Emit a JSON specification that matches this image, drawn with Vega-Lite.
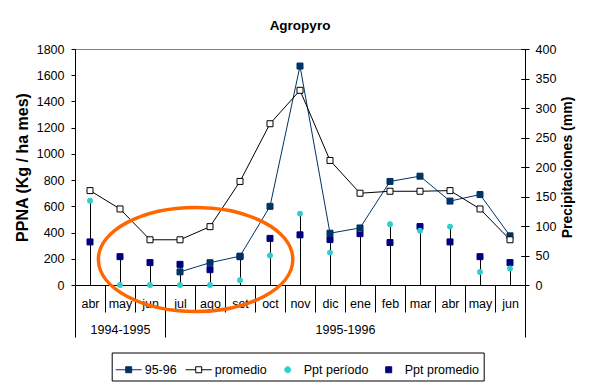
{
  "$schema": "https://vega.github.io/schema/vega-lite/v6.json",
  "width": 450,
  "height": 236,
  "autosize": {"type": "none"},
  "padding": {"left": 75, "top": 49, "right": 74, "bottom": 100},
  "background": "white",
  "title": {"text": "Agropyro", "font": "Liberation Sans", "fontSize": 13.5, "fontWeight": "bold", "color": "black", "anchor": "middle", "frame": "group", "baseline": "bottom", "offset": 16, "dy": 19},
  "datasets": {
    "s": [
      {"i": 4, "serie": "95-96", "v": 100},
      {"i": 5, "serie": "95-96", "v": 170},
      {"i": 6, "serie": "95-96", "v": 220},
      {"i": 7, "serie": "95-96", "v": 600},
      {"i": 8, "serie": "95-96", "v": 1670},
      {"i": 9, "serie": "95-96", "v": 395},
      {"i": 10, "serie": "95-96", "v": 435},
      {"i": 11, "serie": "95-96", "v": 790},
      {"i": 12, "serie": "95-96", "v": 830},
      {"i": 13, "serie": "95-96", "v": 640},
      {"i": 14, "serie": "95-96", "v": 690},
      {"i": 15, "serie": "95-96", "v": 375},
      {"i": 1, "serie": "promedio", "v": 720},
      {"i": 2, "serie": "promedio", "v": 580},
      {"i": 3, "serie": "promedio", "v": 345},
      {"i": 4, "serie": "promedio", "v": 345},
      {"i": 5, "serie": "promedio", "v": 445},
      {"i": 6, "serie": "promedio", "v": 790},
      {"i": 7, "serie": "promedio", "v": 1230},
      {"i": 8, "serie": "promedio", "v": 1485},
      {"i": 9, "serie": "promedio", "v": 950},
      {"i": 10, "serie": "promedio", "v": 700},
      {"i": 11, "serie": "promedio", "v": 715},
      {"i": 12, "serie": "promedio", "v": 715},
      {"i": 13, "serie": "promedio", "v": 720},
      {"i": 14, "serie": "promedio", "v": 580},
      {"i": 15, "serie": "promedio", "v": 345},
      {"i": 1, "serie": "Ppt período", "v": 143},
      {"i": 2, "serie": "Ppt período", "v": 0},
      {"i": 3, "serie": "Ppt período", "v": 0},
      {"i": 4, "serie": "Ppt período", "v": 0},
      {"i": 5, "serie": "Ppt período", "v": 0},
      {"i": 6, "serie": "Ppt período", "v": 8},
      {"i": 7, "serie": "Ppt período", "v": 50},
      {"i": 8, "serie": "Ppt período", "v": 121},
      {"i": 9, "serie": "Ppt período", "v": 55},
      {"i": 10, "serie": "Ppt período", "v": 95},
      {"i": 11, "serie": "Ppt período", "v": 103},
      {"i": 12, "serie": "Ppt período", "v": 92},
      {"i": 13, "serie": "Ppt período", "v": 99},
      {"i": 14, "serie": "Ppt período", "v": 22},
      {"i": 15, "serie": "Ppt período", "v": 28},
      {"i": 1, "serie": "Ppt promedio", "v": 73},
      {"i": 2, "serie": "Ppt promedio", "v": 48},
      {"i": 3, "serie": "Ppt promedio", "v": 38},
      {"i": 4, "serie": "Ppt promedio", "v": 35},
      {"i": 5, "serie": "Ppt promedio", "v": 26},
      {"i": 6, "serie": "Ppt promedio", "v": 48},
      {"i": 7, "serie": "Ppt promedio", "v": 79},
      {"i": 8, "serie": "Ppt promedio", "v": 85},
      {"i": 9, "serie": "Ppt promedio", "v": 77},
      {"i": 10, "serie": "Ppt promedio", "v": 87},
      {"i": 11, "serie": "Ppt promedio", "v": 72},
      {"i": 12, "serie": "Ppt promedio", "v": 99},
      {"i": 13, "serie": "Ppt promedio", "v": 73},
      {"i": 14, "serie": "Ppt promedio", "v": 48},
      {"i": 15, "serie": "Ppt promedio", "v": 38}
    ],
    "anno": [{"i": 4.52, "v": 195}],
    "dummy": [{"i": 1}]
  },
  "layer": [
    {
      "data": {"name": "s"},
      "transform": [{"filter": "datum.serie === 'Ppt período' || datum.serie === 'Ppt promedio'"}],
      "layer": [
        {
          "mark": {"type": "rule", "color": "black", "strokeWidth": 1, "xOffset": 0.5},
          "encoding": {
            "x": {"field": "i", "type": "quantitative", "scale": {"domain": [0.5, 15.5], "nice": false, "zero": false},
              "axis": {"orient": "bottom", "labels": false, "ticks": false, "domain": false, "title": null}},
            "y": {"field": "v", "type": "quantitative", "scale": {"domain": [0, 400], "nice": false},
              "axis": {"orient": "right", "values": [0, 50, 100, 150, 200, 250, 300, 350, 400], "tickSize": 4, "labelPadding": 6, "title": "Precipitaciones (mm)", "titleFontSize": 14, "titleAngle": 270, "titleBaseline": "top", "titlePadding": 5}},
            "y2": {"datum": 0}
          }
        },
        {
          "transform": [{"filter": "datum.serie === 'Ppt promedio'"}],
          "mark": {"type": "point", "shape": "square", "filled": true, "size": 36, "opacity": 1, "strokeWidth": 1},
          "encoding": {
            "x": {"field": "i", "type": "quantitative", "axis": {"orient": "bottom", "labels": false, "ticks": false, "domain": false, "title": null}},
            "y": {"field": "v", "type": "quantitative",
              "axis": {"orient": "right", "offset": -4, "values": [0, 50, 100, 150, 200, 250, 300, 350, 400], "tickSize": 4, "labels": false, "domain": false, "title": null}},
            "fill": {"field": "serie", "type": "nominal", "scale": {"domain": ["95-96", "promedio", "Ppt período", "Ppt promedio"], "range": ["#003366", "white", "#33CCCC", "#000080"]},
              "legend": {"title": null, "orient": "none", "legendX": 36.7, "legendY": 303.5, "direction": "horizontal", "padding": 4, "strokeColor": "black", "fillColor": "white", "labelFont": "Liberation Sans", "labelFontSize": 12.5, "labelColor": "black", "labelOffset": 3, "columnPadding": 7, "symbolSize": 625, "symbolStrokeWidth": 1, "symbolType": "square",
                "encode": {"symbols": {"update": {"shape": {"signal": "datum.value === 'Ppt período' ? 'M-0.24,0A0.24,0.24 0 1,0 0.24,0A0.24,0.24 0 1,0 -0.24,0Z' : datum.value === 'Ppt promedio' ? 'M-0.24,-0.24H0.24V0.24H-0.24Z' : 'M-1.04,0H-0.24M0.24,0H1.04M-0.24,-0.24H0.24V0.24H-0.24Z'"}, "strokeWidth": {"value": 1}, "opacity": {"value": 1}}}}}},
            "stroke": {"field": "serie", "type": "nominal", "scale": {"domain": ["95-96", "promedio", "Ppt período", "Ppt promedio"], "range": ["#003366", "black", "#33CCCC", "#000080"]},
              "legend": {"title": null, "orient": "none", "legendX": 36.7, "legendY": 303.5, "direction": "horizontal", "padding": 4, "strokeColor": "black", "fillColor": "white", "labelFont": "Liberation Sans", "labelFontSize": 12.5, "labelColor": "black", "labelOffset": 3, "columnPadding": 7, "symbolSize": 625, "symbolStrokeWidth": 1, "symbolType": "square",
                "encode": {"symbols": {"update": {"shape": {"signal": "datum.value === 'Ppt período' ? 'M-0.24,0A0.24,0.24 0 1,0 0.24,0A0.24,0.24 0 1,0 -0.24,0Z' : datum.value === 'Ppt promedio' ? 'M-0.24,-0.24H0.24V0.24H-0.24Z' : 'M-1.04,0H-0.24M0.24,0H1.04M-0.24,-0.24H0.24V0.24H-0.24Z'"}, "strokeWidth": {"value": 1}, "opacity": {"value": 1}}}}}}
          }
        },
        {
          "transform": [{"filter": "datum.serie === 'Ppt período'"}],
          "mark": {"type": "point", "shape": "circle", "filled": true, "size": 34, "opacity": 1, "strokeWidth": 0},
          "encoding": {
            "x": {"field": "i", "type": "quantitative", "axis": {"orient": "bottom", "labels": false, "ticks": false, "domain": false, "title": null}},
            "y": {"field": "v", "type": "quantitative",
              "axis": {"orient": "right", "offset": -4, "values": [0, 50, 100, 150, 200, 250, 300, 350, 400], "tickSize": 4, "labels": false, "domain": false, "title": null}},
            "fill": {"field": "serie", "type": "nominal",
              "legend": {"title": null, "orient": "none", "legendX": 36.7, "legendY": 303.5, "direction": "horizontal", "padding": 4, "strokeColor": "black", "fillColor": "white", "labelFont": "Liberation Sans", "labelFontSize": 12.5, "labelColor": "black", "labelOffset": 3, "columnPadding": 7, "symbolSize": 625, "symbolStrokeWidth": 1, "symbolType": "square",
                "encode": {"symbols": {"update": {"shape": {"signal": "datum.value === 'Ppt período' ? 'M-0.24,0A0.24,0.24 0 1,0 0.24,0A0.24,0.24 0 1,0 -0.24,0Z' : datum.value === 'Ppt promedio' ? 'M-0.24,-0.24H0.24V0.24H-0.24Z' : 'M-1.04,0H-0.24M0.24,0H1.04M-0.24,-0.24H0.24V0.24H-0.24Z'"}, "strokeWidth": {"value": 1}, "opacity": {"value": 1}}}}}}
          }
        }
      ],
      "resolve": {"axis": {"y": "independent"}}
    },
    {
      "data": {"name": "s"},
      "transform": [{"filter": "datum.serie === '95-96' || datum.serie === 'promedio'"}],
      "layer": [
        {
          "mark": {"type": "line", "strokeWidth": 1},
          "encoding": {
            "x": {"field": "i", "type": "quantitative", "scale": {"domain": [0.5, 15.5], "nice": false, "zero": false},
              "axis": {"orient": "bottom", "labels": false, "ticks": false, "domain": false, "title": null}},
            "y": {"field": "v", "type": "quantitative", "scale": {"domain": [0, 1800], "nice": false},
              "axis": {"orient": "left", "values": [0, 200, 400, 600, 800, 1000, 1200, 1400, 1600, 1800], "format": "d", "tickSize": 4, "labelPadding": 7, "title": "PPNA (Kg / ha mes)", "titleFontSize": 16, "titlePadding": 6}},
            "stroke": {"field": "serie", "type": "nominal",
              "legend": {"title": null, "orient": "none", "legendX": 36.7, "legendY": 303.5, "direction": "horizontal", "padding": 4, "strokeColor": "black", "fillColor": "white", "labelFont": "Liberation Sans", "labelFontSize": 12.5, "labelColor": "black", "labelOffset": 3, "columnPadding": 7, "symbolSize": 625, "symbolStrokeWidth": 1, "symbolType": "square",
                "encode": {"symbols": {"update": {"shape": {"signal": "datum.value === 'Ppt período' ? 'M-0.24,0A0.24,0.24 0 1,0 0.24,0A0.24,0.24 0 1,0 -0.24,0Z' : datum.value === 'Ppt promedio' ? 'M-0.24,-0.24H0.24V0.24H-0.24Z' : 'M-1.04,0H-0.24M0.24,0H1.04M-0.24,-0.24H0.24V0.24H-0.24Z'"}, "strokeWidth": {"value": 1}, "opacity": {"value": 1}}}}}}
          }
        },
        {
          "mark": {"type": "point", "shape": "square", "filled": true, "size": 36, "opacity": 1, "strokeWidth": 1},
          "encoding": {
            "x": {"field": "i", "type": "quantitative", "axis": {"orient": "bottom", "labels": false, "ticks": false, "domain": false, "title": null}},
            "y": {"field": "v", "type": "quantitative",
              "axis": {"orient": "left", "values": [0, 200, 400, 600, 800, 1000, 1200, 1400, 1600, 1800], "format": "d", "tickSize": 4, "labelPadding": 7, "title": "PPNA (Kg / ha mes)", "titleFontSize": 16, "titlePadding": 6}},
            "fill": {"field": "serie", "type": "nominal",
              "legend": {"title": null, "orient": "none", "legendX": 36.7, "legendY": 303.5, "direction": "horizontal", "padding": 4, "strokeColor": "black", "fillColor": "white", "labelFont": "Liberation Sans", "labelFontSize": 12.5, "labelColor": "black", "labelOffset": 3, "columnPadding": 7, "symbolSize": 625, "symbolStrokeWidth": 1, "symbolType": "square",
                "encode": {"symbols": {"update": {"shape": {"signal": "datum.value === 'Ppt período' ? 'M-0.24,0A0.24,0.24 0 1,0 0.24,0A0.24,0.24 0 1,0 -0.24,0Z' : datum.value === 'Ppt promedio' ? 'M-0.24,-0.24H0.24V0.24H-0.24Z' : 'M-1.04,0H-0.24M0.24,0H1.04M-0.24,-0.24H0.24V0.24H-0.24Z'"}, "strokeWidth": {"value": 1}, "opacity": {"value": 1}}}}}},
            "stroke": {"field": "serie", "type": "nominal",
              "legend": {"title": null, "orient": "none", "legendX": 36.7, "legendY": 303.5, "direction": "horizontal", "padding": 4, "strokeColor": "black", "fillColor": "white", "labelFont": "Liberation Sans", "labelFontSize": 12.5, "labelColor": "black", "labelOffset": 3, "columnPadding": 7, "symbolSize": 625, "symbolStrokeWidth": 1, "symbolType": "square",
                "encode": {"symbols": {"update": {"shape": {"signal": "datum.value === 'Ppt período' ? 'M-0.24,0A0.24,0.24 0 1,0 0.24,0A0.24,0.24 0 1,0 -0.24,0Z' : datum.value === 'Ppt promedio' ? 'M-0.24,-0.24H0.24V0.24H-0.24Z' : 'M-1.04,0H-0.24M0.24,0H1.04M-0.24,-0.24H0.24V0.24H-0.24Z'"}, "strokeWidth": {"value": 1}, "opacity": {"value": 1}}}}}}
          }
        },
        {
          "data": {"name": "anno"},
          "mark": {"type": "point", "shape": "M-1,0A1,0.535 0 1,0 1,0A1,0.535 0 1,0 -1,0Z", "size": 37791, "filled": false, "stroke": "#FF6600", "strokeWidth": 3.5, "opacity": 1},
          "encoding": {
            "x": {"field": "i", "type": "quantitative", "axis": {"orient": "bottom", "labels": false, "ticks": false, "domain": false, "title": null}},
            "y": {"field": "v", "type": "quantitative",
              "axis": {"orient": "left", "values": [0, 200, 400, 600, 800, 1000, 1200, 1400, 1600, 1800], "format": "d", "tickSize": 4, "labelPadding": 7, "title": "PPNA (Kg / ha mes)", "titleFontSize": 16, "titlePadding": 6}}
          }
        }
      ]
    },
    {
      "data": {"name": "dummy"},
      "mark": {"type": "rule", "opacity": 0},
      "encoding": {
        "x": {"field": "i", "type": "quantitative", "scale": {"domain": [0.5, 15.5], "nice": false, "zero": false},
          "axis": {"orient": "bottom", "values": [1, 2, 3, 4, 5, 6, 7, 8, 9, 10, 11, 12, 13, 14, 15], "ticks": false, "tickSize": 0, "domain": true, "labelPadding": 12, "labelExpr": "['abr','may','jun','jul','ago','set','oct','nov','dic','ene','feb','mar','abr','may','jun'][datum.value-1]", "title": null}}
      }
    },
    {
      "data": {"name": "dummy"},
      "mark": {"type": "rule", "opacity": 0},
      "encoding": {
        "x": {"field": "i", "type": "quantitative", "scale": {"domain": [0.5, 15.5], "nice": false, "zero": false},
          "axis": {"orient": "bottom", "values": [1.5, 2.5, 4.5, 5.5, 6.5, 7.5, 8.5, 9.5, 10.5, 11.5, 12.5, 13.5, 14.5], "labels": false, "domain": false, "tickSize": 27, "title": null}}
      }
    },
    {
      "data": {"name": "dummy"},
      "mark": {"type": "rule", "opacity": 0},
      "encoding": {
        "x": {"field": "i", "type": "quantitative", "scale": {"domain": [0.5, 15.5], "nice": false, "zero": false},
          "axis": {"orient": "bottom", "values": [0.5, 3.5, 15.5], "labels": false, "domain": false, "tickSize": 52, "title": null}}
      }
    },
    {
      "data": {"name": "dummy"},
      "mark": {"type": "rule", "opacity": 0},
      "encoding": {
        "x": {"field": "i", "type": "quantitative", "scale": {"domain": [0.5, 15.5], "nice": false, "zero": false},
          "axis": {"orient": "bottom", "values": [2, 9.5], "ticks": false, "tickSize": 0, "domain": false, "labelPadding": 38, "labelExpr": "datum.value == 2 ? '1994-1995' : '1995-1996'", "title": null}}
      }
    }
  ],
  "resolve": {"scale": {"y": "independent"}, "axis": {"x": "independent", "y": "independent"}},
  "config": {
    "view": {"stroke": "#808080", "strokeWidth": 1},
    "axis": {"labelFont": "Liberation Sans", "labelFontSize": 12.5, "labelColor": "black", "titleFont": "Liberation Sans", "titleColor": "black", "titleFontWeight": "bold", "domainColor": "black", "tickColor": "black", "grid": false, "labelFlush": false, "labelOverlap": false}
  }
}
